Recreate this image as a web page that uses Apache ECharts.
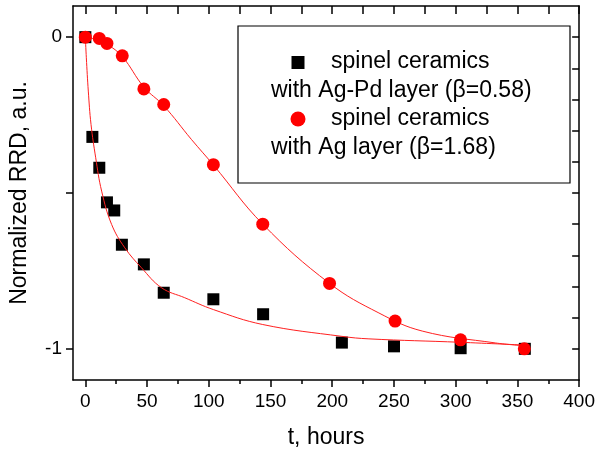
<!DOCTYPE html>
<html>
<head>
    <meta charset="UTF-8">
    <title>RRD</title>
    <script src="https://cdn.jsdelivr.net/npm/echarts@6/dist/echarts.min.js"></script>
    <style>
        *{margin:0;padding:0;}
        body,html{
            height: 100%;
            width: 100%;
            background: #fff;
        }
        #main{
            width: 598px;
            height: 454px;
        }
    </style>
</head>
<body>
<div id="main"></div>
<script>
    // measured points, t in hours
    var tAgPd = [0, 5.7, 11.3, 17.5, 23.4, 29.6, 47.4, 63.5, 103.7, 144, 207.8, 250, 304, 356];
    var rrdAgPd = [0, -0.32, -0.419, -0.53, -0.556, -0.666, -0.729, -0.82, -0.841, -0.889, -0.98, -0.992, -0.998, -1.0];

    var tAg = [0, 11.3, 17.5, 29.9, 47.4, 63.5, 103.7, 143.7, 197.8, 250.9, 303.9, 355.6];
    var rrdAg = [0, -0.004, -0.02, -0.06, -0.166, -0.216, -0.409, -0.6, -0.79, -0.911, -0.971, -1.0];

    // fit curves
    var tFitAgPd = [0, 0.8, 2.4, 4.6, 8.4, 13.2, 21.3, 32, 45.5, 61.7, 80.5, 103.7, 143.7, 207.8, 229.7, 303.9, 355.6];
    var rrdFitAgPd = [0, -0.066, -0.173, -0.28, -0.387, -0.494, -0.601, -0.676, -0.74, -0.804, -0.836, -0.874, -0.922, -0.96, -0.968, -0.979, -0.988];

    var tFitAg = [0, 11.3, 17.5, 29.9, 47.4, 63.5, 85.9, 103.7, 143.7, 197.8, 237.8, 272.9, 332, 355.6];
    var rrdFitAg = [0, -0.01, -0.022, -0.062, -0.16, -0.22, -0.328, -0.41, -0.6, -0.79, -0.885, -0.943, -0.981, -0.99];

    // ticks
    var xMajor = [0, 50, 100, 150, 200, 250, 300, 350, 400];
    var xMinor = [25, 75, 125, 175, 225, 275, 325, 375];
    var xTop = [0, 25, 50, 75, 100, 125, 150, 175, 200, 225, 250, 275, 300, 325, 350, 375, 400];
    var yLeftTicks = [0, -0.5, -1];
    var yLabels = [0, -1];
    var yRightTicks = [0, -0.1, -0.2, -0.3, -0.4, -0.5, -0.6, -0.7, -0.8, -0.9, -1];

    var legendLines = [
        'spinel ceramics',
        'with Ag-Pd layer (\u03b2=0.58)',
        'spinel ceramics',
        'with Ag layer (\u03b2=1.68)'
    ];

    function pairs(xs, ys) {
        var out = [];
        for (var i = 0; i < xs.length; i++) {
            out.push([xs[i], ys[i]]);
        }
        return out;
    }

    var font = 'Liberation Sans';
    var lineStyle = {color: '#000', width: 1.5};

    var myChart = echarts.init(document.getElementById('main'));

    var option = {
        animation: false,
        backgroundColor: '#fff',
        textStyle: {fontFamily: font},
        grid: {left: 73, right: 17, top: 6, bottom: 74, containLabel: false},
        xAxis: [{
            type: 'value', min: -10, max: 400, position: 'bottom',
            name: 't, hours', nameLocation: 'middle', nameGap: 46,
            nameTextStyle: {fontSize: 23, color: '#000', fontFamily: font},
            axisLine: {onZero: false, lineStyle: lineStyle},
            axisTick: {customValues: xMajor, length: 7, inside: false, lineStyle: lineStyle},
            axisLabel: {customValues: xMajor, fontSize: 19, color: '#000', margin: 12, fontFamily: font},
            splitLine: {show: false}
        }, {
            // minor ticks bottom
            type: 'value', min: -10, max: 400, position: 'bottom',
            axisLine: {show: false, onZero: false},
            axisTick: {customValues: xMinor, length: 4, lineStyle: lineStyle},
            axisLabel: {show: false},
            splitLine: {show: false}
        }, {
            type: 'value', min: -10, max: 400, position: 'top',
            axisLine: {onZero: false, lineStyle: lineStyle},
            axisTick: {customValues: xTop, length: 8, inside: true, lineStyle: lineStyle},
            axisLabel: {show: false},
            splitLine: {show: false}
        }],
        yAxis: [{
            type: 'value', min: -1.1, max: 0.1, position: 'left',
            name: 'Normalized RRD, a.u.', nameLocation: 'middle', nameGap: 42,
            nameTextStyle: {fontSize: 23, color: '#000', fontFamily: font},
            axisLine: {onZero: false, lineStyle: lineStyle},
            axisTick: {customValues: yLeftTicks, length: 7, lineStyle: lineStyle},
            axisLabel: {customValues: yLabels, fontSize: 19, color: '#000', margin: 11, fontFamily: font},
            splitLine: {show: false}
        }, {
            type: 'value', min: -1.1, max: 0.1, position: 'right',
            axisLine: {onZero: false, lineStyle: lineStyle},
            axisTick: {customValues: yRightTicks, length: 7, inside: true, lineStyle: lineStyle},
            axisLabel: {show: false},
            splitLine: {show: false}
        }],
        series: [{
            name: 'Ag-Pd',
            type: 'scatter',
            symbol: 'rect',
            symbolSize: 12,
            itemStyle: {color: '#000', opacity: 1},
            data: pairs(tAgPd, rrdAgPd),
            z: 2
        }, {
            type: 'line',
            smooth: 0.4,
            showSymbol: false,
            lineStyle: {color: '#ff2020', width: 1},
            data: pairs(tFitAgPd, rrdFitAgPd),
            z: 3
        }, {
            type: 'line',
            smooth: 0.4,
            showSymbol: false,
            lineStyle: {color: '#ff2020', width: 1},
            data: pairs(tFitAg, rrdFitAg),
            z: 3
        }, {
            name: 'Ag',
            type: 'scatter',
            symbol: 'circle',
            symbolSize: 13,
            itemStyle: {color: '#ff0000', opacity: 1},
            data: pairs(tAg, rrdAg),
            z: 4
        }],
        graphic: [{
            type: 'rect',
            shape: {x: 238, y: 26, width: 332, height: 157},
            style: {fill: '#fff', stroke: '#000', lineWidth: 1.2},
            z: 10
        }, {
            type: 'rect',
            shape: {x: 291.5, y: 56, width: 13, height: 13},
            style: {fill: '#000'},
            z: 11
        }, {
            type: 'circle',
            shape: {cx: 298, cy: 119, r: 7.5},
            style: {fill: '#ff0000'},
            z: 11
        }, {
            type: 'text', x: 331, y: 62, z: 11,
            style: {text: legendLines[0], font: '23px "Liberation Sans"', fill: '#000', verticalAlign: 'middle', align: 'left'}
        }, {
            type: 'text', x: 271, y: 90.5, z: 11,
            style: {text: legendLines[1], font: '23px "Liberation Sans"', fill: '#000', verticalAlign: 'middle', align: 'left'}
        }, {
            type: 'text', x: 331, y: 119, z: 11,
            style: {text: legendLines[2], font: '23px "Liberation Sans"', fill: '#000', verticalAlign: 'middle', align: 'left'}
        }, {
            type: 'text', x: 271, y: 147.5, z: 11,
            style: {text: legendLines[3], font: '23px "Liberation Sans"', fill: '#000', verticalAlign: 'middle', align: 'left'}
        }]
    };
    myChart.setOption(option);
</script>
</body>
</html>
